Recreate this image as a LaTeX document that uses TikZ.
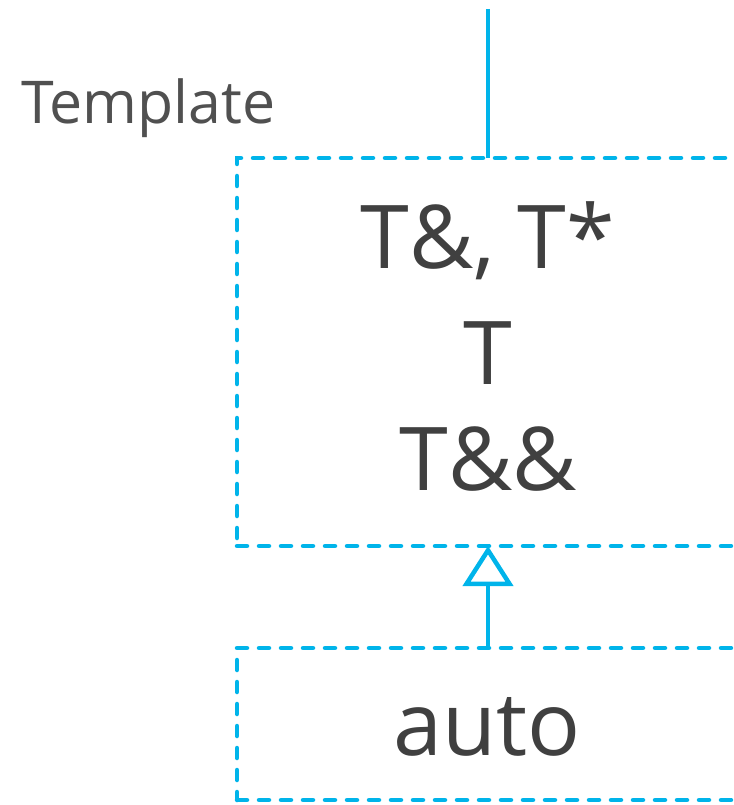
\documentclass[tikz,border=0pt]{standalone}
\usepackage{fontspec}
\setmainfont{Open Sans}
\usetikzlibrary{arrows.meta}
\definecolor{ciscoblue}{HTML}{00B4EA}
\definecolor{textgray}{HTML}{404040}
\definecolor{labelgray}{HTML}{505050}
\tikzset{
  dashbox/.style={draw=ciscoblue, line width=4.5pt, dash pattern=on 10pt off 12pt, line cap=round, rectangle, inner sep=0pt},
  blueline/.style={draw=ciscoblue, line width=4pt},
  bigtext/.style={text=textgray, font=\fontsize{88}{111}\selectfont, align=center, inner sep=0pt},
}
\begin{document}
\begin{tikzpicture}[x=1pt,y=-1pt]
\useasboundingbox (0,0) rectangle (733,805);
\clip (0,0) rectangle (733,805);
\node[dashbox, minimum width=523pt, minimum height=388pt] (tpl) at (498.5,352) {};
\node[dashbox, minimum width=523pt, minimum height=152pt] (autob) at (498.5,724) {};
\coordinate (top) at (488,9);
\coordinate (tpltop) at (488,158);
\coordinate (tplbot) at (488,546);
\coordinate (autotop) at (488,648);
\draw[blueline] (top) -- (tpltop);
\draw[blueline, -{Triangle[open, length=40pt, width=50pt, line width=4.5pt]}] (autotop) -- (tplbot);
\node[text=labelgray, font=\fontsize{59}{59}\selectfont, anchor=base west, inner sep=0pt] (lbl) at (21,124) {Template};
\node[bigtext, anchor=base] (l1) at (488,268) {T\&, T*};
\node[bigtext, anchor=base] (l2) at (488,384) {T};
\node[bigtext, anchor=base] (l3) at (488,490) {T\&\&};
\node[bigtext, anchor=base] (auto) at (487,755) {auto};
\end{tikzpicture}
\end{document}
